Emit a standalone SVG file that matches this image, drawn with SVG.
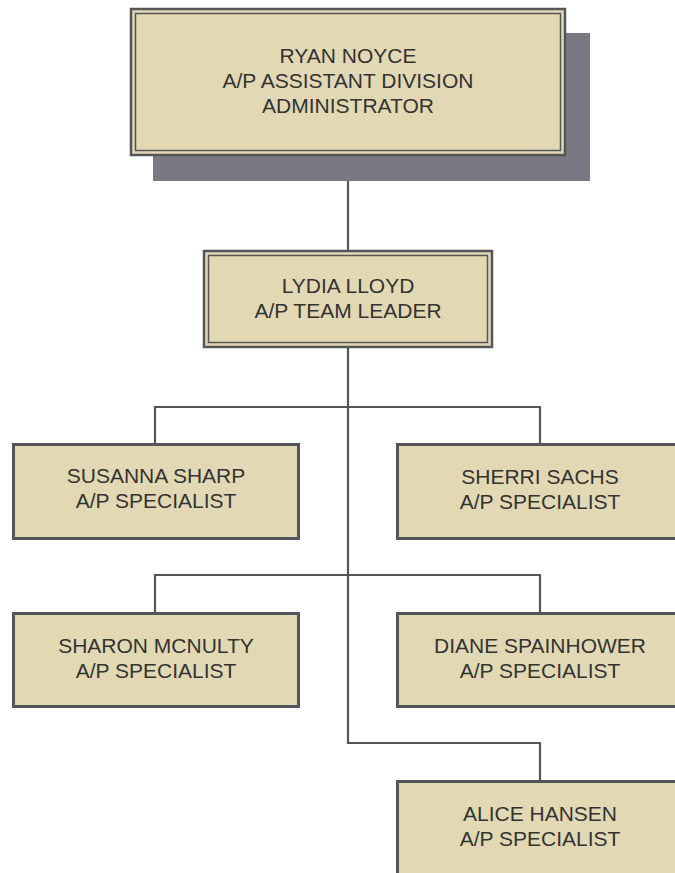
<svg xmlns="http://www.w3.org/2000/svg" width="675" height="873" viewBox="0 0 675 873">
<style>
.box{fill:#e2d9b4;stroke:#555459;stroke-width:3}
.outer{fill:#e2d9b4;stroke:#555459;stroke-width:2.5}
.inner{fill:none;stroke:#555459;stroke-width:1.5}
.shadow{fill:#7a7880}
.t{font-family:"Liberation Sans",Arial,sans-serif;font-size:21px;fill:#333333;text-anchor:middle}
.c{fill:none;stroke:#555459;stroke-width:2.2}
</style>
<rect width="675" height="873" fill="#ffffff"/>
<g id="connectors">
<path class="c" d="M348,156 V250"/>
<path class="c" d="M348,348 V743 H540 V780"/>
<path class="c" d="M155,443 V407 H540 V443"/>
<path class="c" d="M155,612 V575 H540 V612"/>
</g>
<g id="ryan">
<rect class="shadow" x="153" y="33" width="437" height="148"/>
<rect class="outer" x="131" y="9" width="434" height="146"/>
<rect class="inner" x="135.5" y="13.5" width="425" height="137"/>
<text class="t" x="348" y="63">RYAN NOYCE</text>
<text class="t" x="348" y="88">A/P ASSISTANT DIVISION</text>
<text class="t" x="348" y="113">ADMINISTRATOR</text>
</g>
<g id="lydia">
<rect class="outer" x="204" y="251" width="288" height="96"/>
<rect class="inner" x="208.5" y="255.5" width="279" height="87"/>
<text class="t" x="348" y="293">LYDIA LLOYD</text>
<text class="t" x="348" y="318">A/P TEAM LEADER</text>
</g>
<g id="susanna">
<rect class="box" x="13.5" y="444.5" width="285" height="94"/>
<text class="t" x="156" y="483">SUSANNA SHARP</text>
<text class="t" x="156" y="508">A/P SPECIALIST</text>
</g>
<g id="sherri">
<rect class="box" x="397.5" y="444.5" width="285" height="94"/>
<text class="t" x="540" y="484">SHERRI SACHS</text>
<text class="t" x="540" y="509">A/P SPECIALIST</text>
</g>
<g id="sharon">
<rect class="box" x="13.5" y="613.5" width="285" height="93"/>
<text class="t" x="156" y="653">SHARON MCNULTY</text>
<text class="t" x="156" y="678">A/P SPECIALIST</text>
</g>
<g id="diane">
<rect class="box" x="397.5" y="613.5" width="285" height="93"/>
<text class="t" x="540" y="653">DIANE SPAINHOWER</text>
<text class="t" x="540" y="678">A/P SPECIALIST</text>
</g>
<g id="alice">
<rect class="box" x="397.5" y="781.5" width="285" height="100"/>
<text class="t" x="540" y="821">ALICE HANSEN</text>
<text class="t" x="540" y="846">A/P SPECIALIST</text>
</g>
</svg>
